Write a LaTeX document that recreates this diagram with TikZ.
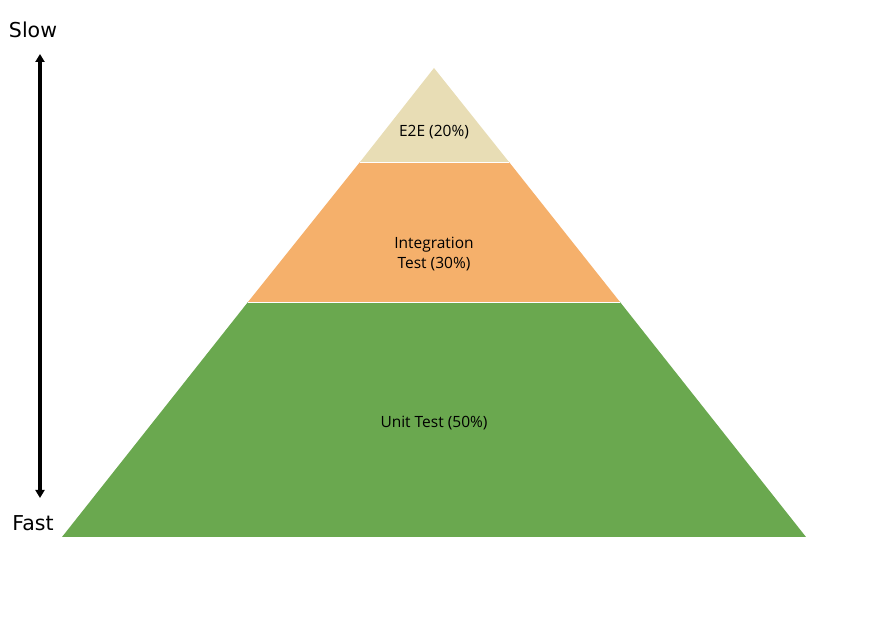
\documentclass[tikz,border=0pt]{standalone}
\usepackage{fontspec}
\setmainfont{Open Sans}
\newfontfamily\dejavu{DejaVu Sans}
\usetikzlibrary{arrows.meta}
\definecolor{tanc}{HTML}{E8DDB5}
\definecolor{orangec}{HTML}{F5B06B}
\definecolor{greenc}{HTML}{6AA84F}
\tikzset{
  lbl/.style={font=\fontsize{15.5}{20}\selectfont, align=center, inner sep=0pt},
  side/.style={font=\dejavu\fontsize{20.5}{24}\selectfont, inner sep=0pt}
}
\begin{document}
\begin{tikzpicture}[x=1pt,y=1pt]
\useasboundingbox (0,0) rectangle (886,636);
% pixel coordinates converted: y = 636 - py
\fill[greenc] (62,99) -- (248,334) -- (620,334) -- (806,99) -- cycle;
\fill[orangec] (248,334) -- (360,474) -- (509,474) -- (620,334) -- cycle;
\fill[tanc] (360,474) -- (434,568) -- (509,474) -- cycle;
\draw[white, line width=0.8pt] (248,334) -- (620,334);
\draw[white, line width=0.8pt] (360,474) -- (509,474);
\node[lbl] (e2e) at (434,504) {E2E (20\%)};
\node[lbl] (integ) at (434,382) {Integration\\Test (30\%)};
\node[lbl] (unit) at (434,213) {Unit Test (50\%)};
\node[side] (slow) at (33,606) {Slow};
\node[side] (fast) at (33,113) {Fast};
\coordinate (top) at (40,582);
\coordinate (bot) at (40,138);
\draw[line width=3.5pt, {Triangle[length=8pt,width=9pt]}-{Triangle[length=8pt,width=9pt]}] (bot) -- (top);
\end{tikzpicture}
\end{document}
